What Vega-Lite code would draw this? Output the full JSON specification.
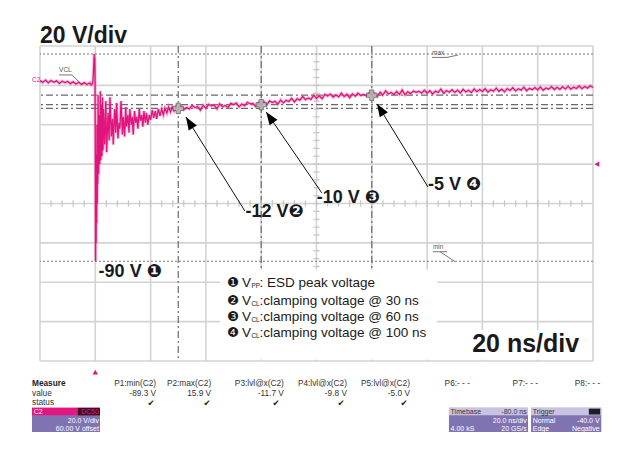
{
"$schema": "https://vega.github.io/schema/vega-lite/v6.json",
"width": 553, "height": 315,
"autosize": {"type": "none"},
"padding": {"left": 40, "top": 46, "right": 28, "bottom": 92},
"background": "white",
"config": {"view": {"stroke": null}, "text": {"font": "Liberation Sans"}},
"resolve": {"scale": {"color": "independent"}},
"datasets": {
"trace": [
{"t":-20,"v":2.4},{"t":-19,"v":1.5},{"t":-18,"v":2.7},{"t":-17,"v":1.3},{"t":-16,"v":2.5},{"t":-15,"v":1.6},{"t":-14,"v":2.3},{"t":-13,"v":1.0},{"t":-12,"v":2.1},{"t":-11,"v":1.4},{"t":-10,"v":2.0},{"t":-9,"v":0.9},{"t":-8,"v":1.8},{"t":-7,"v":0.7},{"t":-6,"v":1.6},{"t":-5,"v":0.5},{"t":-4,"v":1.4},{"t":-3,"v":0.4},{"t":-2,"v":1.3},{"t":-1.5,"v":0.2},{"t":-1,"v":1.0},
{"t":-0.8,"v":3},{"t":-0.6,"v":9},{"t":-0.4,"v":15.9},{"t":-0.3,"v":11},{"t":-0.2,"v":14},{"t":-0.1,"v":4},{"t":0,"v":-30},{"t":0.1,"v":-89.3},{"t":0.2,"v":-55},{"t":0.3,"v":-80},{"t":0.4,"v":-35},{"t":0.5,"v":-70},{"t":0.6,"v":-20},{"t":0.7,"v":-60},{"t":0.8,"v":-25},{"t":0.9,"v":-50},{"t":1.0,"v":-5},{"t":1.2,"v":-45},{"t":1.4,"v":-15},{"t":1.6,"v":-40},{"t":1.8,"v":-3},{"t":2.0,"v":-38},{"t":2.2,"v":-10},{"t":2.4,"v":-36},{"t":2.6,"v":-6},{"t":2.8,"v":-33},{"t":3.0,"v":-12},{"t":3.4,"v":-30},{"t":3.8,"v":-8},{"t":4.1,"v":-34},{"t":4.6,"v":-14},{"t":5.0,"v":-28},{"t":5.3,"v":-6},{"t":5.8,"v":-26},{"t":6.2,"v":-17},{"t":6.5,"v":-30},{"t":7.0,"v":-12},{"t":7.4,"v":-24},{"t":7.7,"v":-9},{"t":8.2,"v":-27},{"t":8.6,"v":-19},{"t":8.9,"v":-22},{"t":9.3,"v":-8},{"t":9.8,"v":-25},{"t":10.1,"v":-16},{"t":10.6,"v":-26},{"t":11.0,"v":-11},{"t":11.3,"v":-21},{"t":11.8,"v":-15},{"t":12.2,"v":-24},{"t":12.5,"v":-12},{"t":13.0,"v":-20},{"t":13.4,"v":-16},{"t":13.7,"v":-25},{"t":14.2,"v":-13},{"t":14.6,"v":-19},{"t":15.0,"v":-16},{"t":15.4,"v":-22},{"t":15.9,"v":-12},{"t":16.3,"v":-18},{"t":16.8,"v":-15},{"t":17.2,"v":-21},{"t":17.6,"v":-13},{"t":18.1,"v":-19},{"t":18.5,"v":-14},{"t":19.0,"v":-20},{"t":19.5,"v":-15},{"t":20.0,"v":-17.5},{"t":20.6,"v":-12.5},{"t":21.1,"v":-16.5},{"t":21.7,"v":-13},{"t":22.2,"v":-17},{"t":22.8,"v":-12},{"t":23.4,"v":-15.5},{"t":24.0,"v":-12},{"t":24.6,"v":-15},{"t":25.2,"v":-11.5},{"t":25.9,"v":-14},{"t":26.5,"v":-11},{"t":27.2,"v":-13.5},{"t":27.8,"v":-11},{"t":28.5,"v":-13},{"t":29.2,"v":-10.8},{"t":30,"v":-11.7},
{"t":31,"v":-10.6},{"t":32,"v":-12.4},{"t":33,"v":-11.2},{"t":34,"v":-12.0},{"t":35,"v":-10.2},{"t":36,"v":-11.3},{"t":37,"v":-10.7},{"t":38,"v":-12.6},{"t":39,"v":-10.1},{"t":40,"v":-11.6},
{"t":41,"v":-9.6},{"t":42,"v":-10.4},{"t":43,"v":-10.0},{"t":44,"v":-11.9},{"t":45,"v":-9.4},{"t":46,"v":-10.8},{"t":47,"v":-10.2},{"t":48,"v":-11.2},{"t":49,"v":-9.1},{"t":50,"v":-9.8},
{"t":51,"v":-9.0},{"t":52,"v":-10.9},{"t":53,"v":-9.5},{"t":54,"v":-10.3},{"t":55,"v":-8.6},{"t":56,"v":-9.4},{"t":57,"v":-9.2},{"t":58,"v":-10.7},{"t":59,"v":-8.8},{"t":60,"v":-9.8},
{"t":61,"v":-8.3},{"t":62,"v":-9.9},{"t":63,"v":-7.9},{"t":64,"v":-8.7},{"t":65,"v":-8.1},{"t":66,"v":-9.6},{"t":67,"v":-7.4},{"t":68,"v":-8.9},{"t":69,"v":-7.6},{"t":70,"v":-8.2},
{"t":71,"v":-6.6},{"t":72,"v":-8.4},{"t":73,"v":-6.8},{"t":74,"v":-7.5},{"t":75,"v":-5.6},{"t":76,"v":-7.3},{"t":77,"v":-6.4},{"t":78,"v":-7.1},{"t":79,"v":-4.9},{"t":80,"v":-6.6},
{"t":81,"v":-5.3},{"t":82,"v":-6.8},{"t":83,"v":-4.6},{"t":84,"v":-5.4},{"t":85,"v":-4.4},{"t":86,"v":-6.0},{"t":87,"v":-4.9},{"t":88,"v":-5.8},{"t":89,"v":-3.9},{"t":90,"v":-5.7},
{"t":91,"v":-4.5},{"t":92,"v":-6.2},{"t":93,"v":-4.3},{"t":94,"v":-5.5},{"t":95,"v":-4.0},{"t":96,"v":-5.2},{"t":97,"v":-4.6},{"t":98,"v":-5.3},{"t":99,"v":-3.8},{"t":100,"v":-5.0},
{"t":101,"v":-4.1},{"t":102,"v":-5.6},{"t":103,"v":-3.5},{"t":104,"v":-4.9},{"t":105,"v":-2.8},{"t":106,"v":-4.4},{"t":107,"v":-3.6},{"t":108,"v":-4.7},{"t":109,"v":-3.1},{"t":110,"v":-4.6},
{"t":111,"v":-2.4},{"t":112,"v":-4.8},{"t":113,"v":-3.3},{"t":114,"v":-4.2},{"t":115,"v":-2.9},{"t":116,"v":-3.5},{"t":117,"v":-3.0},{"t":118,"v":-4.0},{"t":119,"v":-2.5},{"t":120,"v":-3.9},
{"t":121,"v":-2.7},{"t":122,"v":-4.4},{"t":123,"v":-2.9},{"t":124,"v":-3.6},{"t":125,"v":-1.9},{"t":126,"v":-4.1},{"t":127,"v":-2.6},{"t":128,"v":-3.5},{"t":129,"v":-2.2},{"t":130,"v":-3.6},
{"t":131,"v":-2.4},{"t":132,"v":-3.9},{"t":133,"v":-2.0},{"t":134,"v":-3.3},{"t":135,"v":-2.5},{"t":136,"v":-3.7},{"t":137,"v":-1.8},{"t":138,"v":-3.2},{"t":139,"v":-2.1},{"t":140,"v":-3.1},
{"t":141,"v":-1.7},{"t":142,"v":-3.4},{"t":143,"v":-2.2},{"t":144,"v":-2.9},{"t":145,"v":-1.4},{"t":146,"v":-3.0},{"t":147,"v":-1.9},{"t":148,"v":-3.3},{"t":149,"v":-1.6},{"t":150,"v":-2.6},
{"t":151,"v":-1.2},{"t":152,"v":-2.8},{"t":153,"v":-1.7},{"t":154,"v":-2.4},{"t":155,"v":-0.9},{"t":156,"v":-2.7},{"t":157,"v":-1.5},{"t":158,"v":-2.2},{"t":159,"v":-1.1},{"t":160,"v":-2.3},
{"t":161,"v":-0.8},{"t":162,"v":-2.5},{"t":163,"v":-1.3},{"t":164,"v":-1.9},{"t":165,"v":-0.6},{"t":166,"v":-2.1},{"t":167,"v":-1.0},{"t":168,"v":-2.0},{"t":169,"v":-0.7},{"t":170,"v":-1.8},
{"t":171,"v":-0.5},{"t":172,"v":-1.9},{"t":173,"v":-0.9},{"t":174,"v":-1.6},{"t":175,"v":-0.3},{"t":176,"v":-1.7},{"t":177,"v":-0.6},{"t":178,"v":-1.4},{"t":179,"v":-0.2},{"t":180,"v":-1.1}
],
"gridT": [{"t":-20},{"t":0},{"t":20},{"t":40},{"t":60},{"t":80},{"t":100},{"t":120},{"t":140},{"t":160},{"t":180}],
"gridV": [{"v":-140},{"v":-120},{"v":-100},{"v":-80},{"v":-60},{"v":-40},{"v":-20},{"v":0},{"v":20}],
"ticksT": [{"t":-16},{"t":-12},{"t":-8},{"t":-4},{"t":0},{"t":4},{"t":8},{"t":12},{"t":16},{"t":20},{"t":24},{"t":28},{"t":32},{"t":36},{"t":40},{"t":44},{"t":48},{"t":52},{"t":56},{"t":60},{"t":64},{"t":68},{"t":72},{"t":76},{"t":80},{"t":84},{"t":88},{"t":92},{"t":96},{"t":100},{"t":104},{"t":108},{"t":112},{"t":116},{"t":120},{"t":124},{"t":128},{"t":132},{"t":136},{"t":140},{"t":144},{"t":148},{"t":152},{"t":156},{"t":160},{"t":164},{"t":168},{"t":172},{"t":176}],
"ticksV": [{"v":-136},{"v":-132},{"v":-128},{"v":-124},{"v":-120},{"v":-116},{"v":-112},{"v":-108},{"v":-104},{"v":-100},{"v":-96},{"v":-92},{"v":-88},{"v":-84},{"v":-80},{"v":-76},{"v":-72},{"v":-68},{"v":-64},{"v":-60},{"v":-56},{"v":-52},{"v":-48},{"v":-44},{"v":-40},{"v":-36},{"v":-32},{"v":-28},{"v":-24},{"v":-20},{"v":-16},{"v":-12},{"v":-8},{"v":-4},{"v":0},{"v":4},{"v":8},{"v":12},{"v":16}],
"vcur": [{"t":30},{"t":60},{"t":100}],
"hcur": [{"v":-5},{"v":-9.8},{"v":-11.7}],
"mm": [{"v":15.9},{"v":-89.3}],
"pts": [{"t":30,"v":-11.7},{"t":60,"v":-9.8},{"t":100,"v":-5}],
"whites": [{"t":45.1,"t2":123.6,"v":-93.6,"v2":-139.3},{"t":134.9,"t2":178.9,"v":-124.2,"v2":-139.3}],
"arrows": [{"id":2,"t":32.8,"v":-16.1,"t2":54.1,"v2":-63.8},{"id":3,"t":61.8,"v":-13.5,"t2":81.9,"v2":-54.6},{"id":4,"t":101.9,"v":-9.4,"t2":120.3,"v2":-51.6}],
"callouts": [{"label":"-90 V ❶","t":1.2,"v":-94.7},{"label":"-12 V❷","t":54.3,"v":-64.3},{"label":"-10 V ❸","t":80.1,"v":-57.2},{"label":"-5 V ❹","t":120.3,"v":-50.6}],
"legend": [{"n":"❶","sub":"PP","rest":": ESD peak voltage","v":-100.3},{"n":"❷","sub":"CL","rest":" :clamping voltage @ 30 ns","v":-109.3},{"n":"❸","sub":"CL","rest":" :clamping voltage @ 60 ns","v":-117.4},{"n":"❹","sub":"CL","rest":" :clamping voltage @ 100 ns","v":-125.9}],
"title1": [{"txt":"20 V/div","t":-20,"v":21.5}],
"title2": [{"txt":"20 ns/div","t":136.3,"v":-135.4}],
"tinyG": [{"txt":"VCL","t":-13.1,"v":7.8},{"txt":"max","t":121.8,"v":16.4},{"txt":"min","t":122.1,"v":-82.0}],
"tinyP": [{"txt":"C2","t":-22.9,"v":2.9}],
"tinylines": [{"t":-13.1,"v":5.3,"t2":-8.4,"v2":5.3},{"t":-8.4,"v":5.3,"t2":-5.5,"v2":1.2},{"t":121.8,"v":14.2,"t2":127.2,"v2":14.2},{"t":127.2,"v":14.2,"t2":131.2,"v2":15.4},{"t":122.1,"v":-84.5,"t2":127.2,"v2":-84.5},{"t":124.7,"v":-84.5,"t2":130.1,"v2":-89.5}],
"pboxes": [
{"t":-22.9,"t2":1.7,"v":-163.8,"v2":-176.0,"k":"body"},{"t":-22.9,"t2":1.7,"v":-163.8,"v2":-167.6,"k":"pink"},{"t":-6.3,"t2":1.7,"v":-163.8,"v2":-167.6,"k":"tag"},
{"t":127.9,"t2":156.5,"v":-163.8,"v2":-176.0,"k":"body"},{"t":127.9,"t2":156.5,"v":-163.8,"v2":-167.6,"k":"head"},
{"t":157.6,"t2":183.0,"v":-163.8,"v2":-176.0,"k":"body"},{"t":157.6,"t2":183.0,"v":-163.8,"v2":-167.6,"k":"head"},{"t":178.5,"t2":182.6,"v":-164.2,"v2":-167.2,"k":"black"}
],
"ptextL": [{"txt":"value","t":-22.9,"v":-156.7},{"txt":"status","t":-22.9,"v":-161.3}],
"ptextR": [
{"txt":"P1:min(C2)","t":22.0,"v":-151.6},{"txt":"P2:max(C2)","t":41.9,"v":-151.6},{"txt":"P3:lvl@x(C2)","t":68.2,"v":-151.6},{"txt":"P4:lvl@x(C2)","t":91.0,"v":-151.6},{"txt":"P5:lvl@x(C2)","t":113.8,"v":-151.6},{"txt":"P6:- - -","t":135.5,"v":-151.6},{"txt":"P7:- - -","t":160.1,"v":-151.6},{"txt":"P8:- - -","t":182.6,"v":-151.6},
{"txt":"-89.3 V","t":22.0,"v":-156.7},{"txt":"15.9 V","t":41.9,"v":-156.7},{"txt":"-11.7 V","t":68.2,"v":-156.7},{"txt":"-9.8 V","t":91.0,"v":-156.7},{"txt":"-5.0 V","t":113.8,"v":-156.7}
],
"boxL": [
{"txt":"C2","t":-22.3,"v":-165.7,"c":"w"},
{"txt":"Timebase","t":128.5,"v":-165.7,"c":"d"},{"txt":"4.00 kS","t":128.5,"v":-174.6,"c":"w"},
{"txt":"Trigger","t":158.2,"v":-165.7,"c":"d"},{"txt":"Normal","t":158.2,"v":-170.4,"c":"w"},{"txt":"Edge","t":158.2,"v":-174.6,"c":"w"}
],
"boxR": [
{"txt":"DC50","t":1.3,"v":-165.7,"c":"p"},
{"txt":"20.0 V/div","t":1.3,"v":-170.4,"c":"w"},{"txt":"60.00 V offset","t":1.3,"v":-174.6,"c":"w"},
{"txt":"-80.0 ns","t":156.0,"v":-165.7,"c":"d"},{"txt":"20.0 ns/div","t":156.0,"v":-170.4,"c":"w"},{"txt":"20 GS/s","t":156.0,"v":-174.6,"c":"w"},
{"txt":"-40.0 V","t":182.4,"v":-170.4,"c":"w"},{"txt":"Negative","t":182.4,"v":-174.6,"c":"w"}
],
"checks": [{"t":20.2,"v":-161.3},{"t":40.4,"v":-161.3},{"t":65.4,"v":-161.3},{"t":88.9,"v":-161.3},{"t":111.7,"v":-161.3}]
},
"layer": [
{"data": {"name": "gridT"}, "mark": {"type": "rule", "color": "#d3d3d3", "strokeWidth": 1.6},
 "encoding": {"x": {"field": "t", "type": "quantitative", "scale": {"domain": [-20, 180], "nice": false, "zero": false}, "axis": null}}},
{"data": {"name": "gridV"}, "mark": {"type": "rule", "color": "#d3d3d3", "strokeWidth": 1.6},
 "encoding": {"y": {"field": "v", "type": "quantitative", "scale": {"domain": [-140, 20], "nice": false, "zero": false}, "axis": null}}},
{"data": {"name": "vcur"}, "mark": {"type": "rule", "color": "#6a6a6a", "strokeWidth": 1.2, "strokeDash": [7, 3, 2, 3]},
 "encoding": {"x": {"field": "t", "type": "quantitative", "axis": null}}},
{"data": {"name": "hcur"}, "mark": {"type": "rule", "color": "#6a6a6a", "strokeWidth": 1.2, "strokeDash": [7, 3, 2, 3]},
 "encoding": {"y": {"field": "v", "type": "quantitative", "axis": null}}},
{"data": {"name": "mm"}, "mark": {"type": "rule", "color": "#777777", "strokeWidth": 1.1, "strokeDash": [2, 2]},
 "encoding": {"y": {"field": "v", "type": "quantitative", "axis": null}}},
{"data": {"name": "ticksT"}, "mark": {"type": "rule", "color": "#c4c4c4", "strokeWidth": 1.2},
 "encoding": {"x": {"field": "t", "type": "quantitative", "axis": null}, "y": {"datum": -61.6, "axis": null}, "y2": {"datum": -58.4}}},
{"data": {"name": "ticksV"}, "mark": {"type": "rule", "color": "#c4c4c4", "strokeWidth": 1.2},
 "encoding": {"y": {"field": "v", "type": "quantitative", "axis": null}, "x": {"datum": 78.9, "axis": null}, "x2": {"datum": 81.1}}},
{"data": {"name": "whites"}, "mark": {"type": "rect", "fill": "white"},
 "encoding": {"x": {"field": "t", "type": "quantitative", "axis": null}, "x2": {"field": "t2"}, "y": {"field": "v", "type": "quantitative", "axis": null}, "y2": {"field": "v2"}}},
{"data": {"name": "trace"}, "mark": {"type": "line", "color": "#f06aaa", "strokeWidth": 3.2, "opacity": 0.45},
 "encoding": {"x": {"field": "t", "type": "quantitative", "axis": null}, "y": {"field": "v", "type": "quantitative", "axis": null}}},
{"data": {"name": "trace"}, "mark": {"type": "line", "color": "#e0147c", "strokeWidth": 1.3},
 "encoding": {"x": {"field": "t", "type": "quantitative", "axis": null}, "y": {"field": "v", "type": "quantitative", "axis": null}}},
{"data": {"name": "pts"}, "mark": {"type": "point", "shape": "cross", "size": 110, "filled": true, "fill": "#b5b5b5", "stroke": "#5a5a5a", "strokeWidth": 0.8, "opacity": 0.9},
 "encoding": {"x": {"field": "t", "type": "quantitative", "axis": null}, "y": {"field": "v", "type": "quantitative", "axis": null}}},
{"data": {"name": "arrows"}, "mark": {"type": "rule", "color": "#111111", "strokeWidth": 1},
 "encoding": {"x": {"field": "t", "type": "quantitative", "axis": null}, "x2": {"field": "t2"}, "y": {"field": "v", "type": "quantitative", "axis": null}, "y2": {"field": "v2"}}},
{"data": {"name": "arrows"}, "transform": [{"filter": "datum.id == 2"}], "mark": {"type": "point", "shape": "M0,0L-1.2,3.2L1.2,3.2Z", "size": 64, "filled": true, "color": "#000000", "opacity": 1, "angle": 328},
 "encoding": {"x": {"field": "t", "type": "quantitative", "axis": null}, "y": {"field": "v", "type": "quantitative", "axis": null}}},
{"data": {"name": "arrows"}, "transform": [{"filter": "datum.id == 3"}], "mark": {"type": "point", "shape": "M0,0L-1.2,3.2L1.2,3.2Z", "size": 64, "filled": true, "color": "#000000", "opacity": 1, "angle": 325},
 "encoding": {"x": {"field": "t", "type": "quantitative", "axis": null}, "y": {"field": "v", "type": "quantitative", "axis": null}}},
{"data": {"name": "arrows"}, "transform": [{"filter": "datum.id == 4"}], "mark": {"type": "point", "shape": "M0,0L-1.2,3.2L1.2,3.2Z", "size": 64, "filled": true, "color": "#000000", "opacity": 1, "angle": 328},
 "encoding": {"x": {"field": "t", "type": "quantitative", "axis": null}, "y": {"field": "v", "type": "quantitative", "axis": null}}},
{"data": {"name": "callouts"}, "mark": {"type": "text", "font": "Liberation Sans, DejaVu Sans", "fontSize": 18, "fontWeight": "bold", "align": "left", "baseline": "middle", "color": "#1a1a1a"},
 "encoding": {"x": {"field": "t", "type": "quantitative", "axis": null}, "y": {"field": "v", "type": "quantitative", "axis": null}, "text": {"field": "label"}}},
{"data": {"name": "legend"}, "mark": {"type": "text", "font": "DejaVu Sans", "fontSize": 13.5, "align": "left", "baseline": "middle", "color": "#1a1a1a"},
 "encoding": {"x": {"datum": 47.6, "axis": null}, "y": {"field": "v", "type": "quantitative", "axis": null}, "text": {"field": "n"}}},
{"data": {"name": "legend"}, "mark": {"type": "text", "fontSize": 13.5, "align": "left", "baseline": "middle", "color": "#1a1a1a", "dx": 15},
 "encoding": {"x": {"datum": 47.6, "axis": null}, "y": {"field": "v", "type": "quantitative", "axis": null}, "text": {"value": "V"}}},
{"data": {"name": "legend"}, "mark": {"type": "text", "fontSize": 6.5, "align": "left", "baseline": "middle", "color": "#1a1a1a", "dx": 24.5, "dy": 3},
 "encoding": {"x": {"datum": 47.6, "axis": null}, "y": {"field": "v", "type": "quantitative", "axis": null}, "text": {"field": "sub"}}},
{"data": {"name": "legend"}, "mark": {"type": "text", "fontSize": 13.5, "align": "left", "baseline": "middle", "color": "#1a1a1a", "dx": 32.5},
 "encoding": {"x": {"datum": 47.6, "axis": null}, "y": {"field": "v", "type": "quantitative", "axis": null}, "text": {"field": "rest"}}},
{"data": {"name": "title1"}, "mark": {"type": "text", "fontSize": 23, "fontWeight": "bold", "align": "left", "baseline": "alphabetic", "color": "#1a1a1a"},
 "encoding": {"x": {"field": "t", "type": "quantitative", "axis": null}, "y": {"field": "v", "type": "quantitative", "axis": null}, "text": {"field": "txt"}}},
{"data": {"name": "title2"}, "mark": {"type": "text", "fontSize": 25, "fontWeight": "bold", "align": "left", "baseline": "alphabetic", "color": "#1a1a1a"},
 "encoding": {"x": {"field": "t", "type": "quantitative", "axis": null}, "y": {"field": "v", "type": "quantitative", "axis": null}, "text": {"field": "txt"}}},
{"data": {"name": "tinyG"}, "mark": {"type": "text", "fontSize": 6.5, "align": "left", "baseline": "middle", "color": "#555555"},
 "encoding": {"x": {"field": "t", "type": "quantitative", "axis": null}, "y": {"field": "v", "type": "quantitative", "axis": null}, "text": {"field": "txt"}}},
{"data": {"name": "tinyP"}, "mark": {"type": "text", "fontSize": 6.5, "align": "left", "baseline": "middle", "color": "#e0147c"},
 "encoding": {"x": {"field": "t", "type": "quantitative", "axis": null}, "y": {"field": "v", "type": "quantitative", "axis": null}, "text": {"field": "txt"}}},
{"data": {"name": "tinylines"}, "mark": {"type": "rule", "color": "#666666", "strokeWidth": 0.9},
 "encoding": {"x": {"field": "t", "type": "quantitative", "axis": null}, "x2": {"field": "t2"}, "y": {"field": "v", "type": "quantitative", "axis": null}, "y2": {"field": "v2"}}},
{"data": {"values": [{"t": 181.4, "v": -40}]}, "mark": {"type": "point", "shape": "triangle-left", "size": 30, "filled": true, "color": "#e0147c", "opacity": 1},
 "encoding": {"x": {"field": "t", "type": "quantitative", "axis": null}, "y": {"field": "v", "type": "quantitative", "axis": null}}},
{"data": {"values": [{"t": 0, "v": -145.6}]}, "mark": {"type": "point", "shape": "triangle-up", "size": 30, "filled": true, "color": "#e0147c", "opacity": 1},
 "encoding": {"x": {"field": "t", "type": "quantitative", "axis": null}, "y": {"field": "v", "type": "quantitative", "axis": null}}},
{"mark": {"type": "rule", "color": "#000000", "strokeWidth": 2.5},
 "encoding": {"x": {"datum": -40, "axis": null}, "x2": {"datum": 200}, "y": {"datum": 40.5, "axis": null}}},
{"mark": {"type": "rule", "color": "#000000", "strokeWidth": 2.5},
 "encoding": {"x": {"datum": -32.3, "axis": null}, "y": {"datum": 40.5, "axis": null}, "y2": {"datum": -200}}},
{"data": {"name": "pboxes"}, "mark": {"type": "rect"},
 "encoding": {"x": {"field": "t", "type": "quantitative", "axis": null}, "x2": {"field": "t2"}, "y": {"field": "v", "type": "quantitative", "axis": null}, "y2": {"field": "v2"},
   "color": {"field": "k", "type": "nominal", "scale": {"domain": ["body", "pink", "tag", "head", "black"], "range": ["#7f73b2", "#e5167f", "#3a0f28", "#c9c3e1", "#1e1e1e"]}, "legend": null}}},
{"data": {"values": [{"txt": "Measure", "t": -22.9, "v": -151.6}]}, "mark": {"type": "text", "fontSize": 8.3, "fontWeight": "bold", "align": "left", "baseline": "middle", "color": "#222222"},
 "encoding": {"x": {"field": "t", "type": "quantitative", "axis": null}, "y": {"field": "v", "type": "quantitative", "axis": null}, "text": {"field": "txt"}}},
{"data": {"name": "ptextL"}, "mark": {"type": "text", "fontSize": 8.3, "align": "left", "baseline": "middle", "color": "#333333"},
 "encoding": {"x": {"field": "t", "type": "quantitative", "axis": null}, "y": {"field": "v", "type": "quantitative", "axis": null}, "text": {"field": "txt"}}},
{"data": {"name": "ptextR"}, "mark": {"type": "text", "fontSize": 8.3, "align": "right", "baseline": "middle", "color": "#333333"},
 "encoding": {"x": {"field": "t", "type": "quantitative", "axis": null}, "y": {"field": "v", "type": "quantitative", "axis": null}, "text": {"field": "txt"}}},
{"data": {"name": "boxL"}, "mark": {"type": "text", "fontSize": 7, "align": "left", "baseline": "middle"},
 "encoding": {"x": {"field": "t", "type": "quantitative", "axis": null}, "y": {"field": "v", "type": "quantitative", "axis": null}, "text": {"field": "txt"},
   "color": {"field": "c", "type": "nominal", "scale": {"domain": ["d", "w", "p"], "range": ["#333333", "#ffffff", "#e5167f"]}, "legend": null}}},
{"data": {"name": "boxR"}, "mark": {"type": "text", "fontSize": 7, "align": "right", "baseline": "middle"},
 "encoding": {"x": {"field": "t", "type": "quantitative", "axis": null}, "y": {"field": "v", "type": "quantitative", "axis": null}, "text": {"field": "txt"},
   "color": {"field": "c", "type": "nominal", "scale": {"domain": ["d", "w", "p"], "range": ["#333333", "#ffffff", "#e5167f"]}, "legend": null}}},
{"data": {"name": "checks"}, "mark": {"type": "text", "font": "DejaVu Sans", "fontSize": 8.5, "align": "center", "baseline": "middle", "color": "#222222"},
 "encoding": {"x": {"field": "t", "type": "quantitative", "axis": null}, "y": {"field": "v", "type": "quantitative", "axis": null}, "text": {"value": "✔"}}}
]
}
